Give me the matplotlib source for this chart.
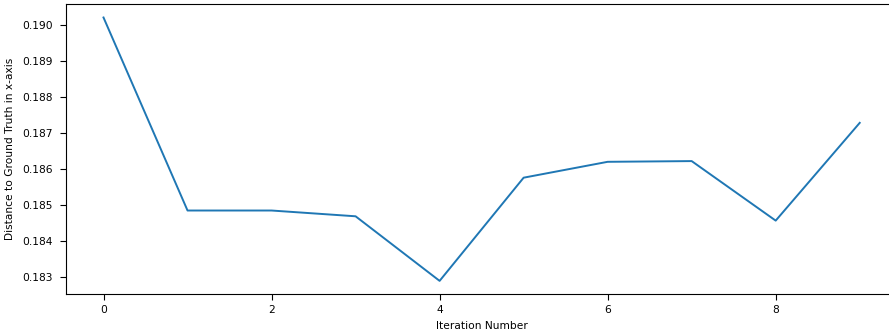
#!/usr/bin/env python3

import matplotlib

matplotlib.use("Agg")
import matplotlib.pyplot as plt

# distance per iteration
ITERATIONS = [0, 1, 2, 3, 4, 5, 6, 7, 8, 9]
DISTANCE_X = [
    0.19020,
    0.18485,
    0.18485,
    0.18469,
    0.18290,
    0.18576,
    0.18620,
    0.18622,
    0.18457,
    0.18728,
]
X_TICKS = [0, 2, 4, 6, 8]


def main() -> int:
    plt.rcParams["font.size"] = 7.7
    fig = plt.figure(figsize=(8.89, 3.33), dpi=100)
    # the saved frame cuts off the right edge of the axes
    ax = fig.add_axes([0.0739, 0.117, 0.9357, 0.870])
    ax.plot(ITERATIONS, DISTANCE_X, color="#1f77b4", linewidth=1.4)
    ax.set_xticks(X_TICKS)
    ax.yaxis.set_major_formatter(matplotlib.ticker.FormatStrFormatter("%.3f"))
    ax.tick_params(axis="y", length=4, pad=5.5)
    ax.tick_params(axis="x", length=4, pad=4)
    ax.set_xlabel("Iteration Number", labelpad=4)
    ax.set_ylabel("Distance to Ground Truth in x-axis", labelpad=5)
    fig.savefig("out.png", dpi=100)
    plt.close(fig)
    return 0


if __name__ == "__main__":
    raise SystemExit(main())
